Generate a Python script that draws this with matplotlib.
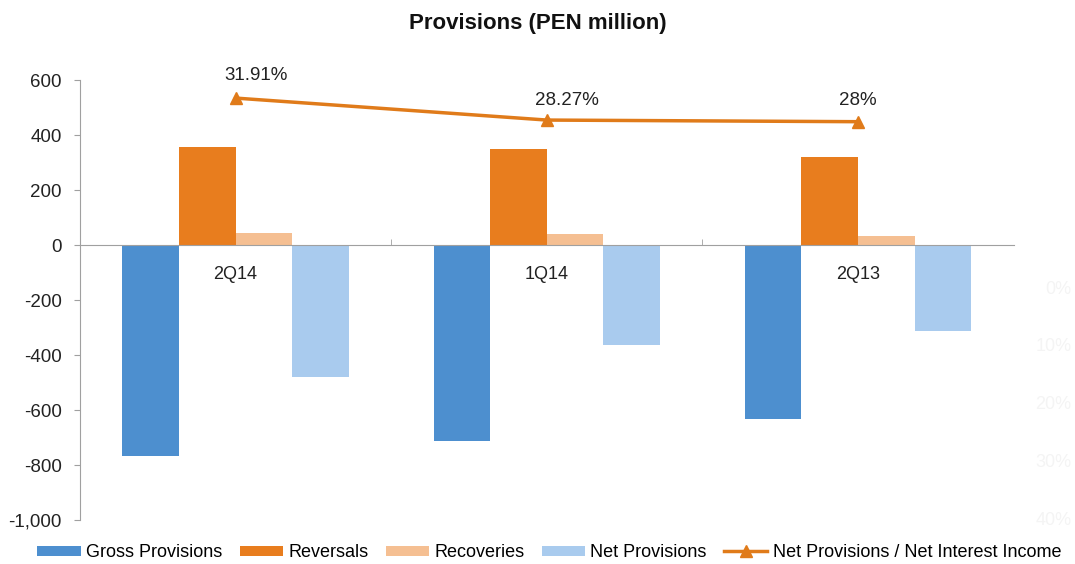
import numpy as np
import matplotlib.pyplot as plt
from matplotlib.ticker import FuncFormatter

plt.rcParams['font.family'] = ['Liberation Sans', 'DejaVu Sans']

quarters = ["2Q14", "1Q14", "2Q13"]
gross_provisions = [-768, -713, -633]
reversals = [355, 351, 322]
recoveries = [44, 40, 33]
net_provisions = [-479, -362, -311]
net_prov_ratio = [31.91, 28.27, 28.0]
ratio_labels = ["31.91%", "28.27%", "28%"]
ghost_pct_labels = ["0%", "10%", "20%", "30%", "40%"]

series = [
    ("Gross Provisions", gross_provisions, "#4d8fcf"),
    ("Reversals", reversals, "#e87d1e"),
    ("Recoveries", recoveries, "#f5bf92"),
    ("Net Provisions", net_provisions, "#a9cbee"),
]

fig = plt.figure(figsize=(10.75, 5.64), dpi=100)
ax = fig.add_axes([0.0744, 0.078, 0.8686, 0.78])

x = np.arange(len(quarters))
w = 0.182
for i, (name, vals, col) in enumerate(series):
    ax.bar(x + (i - 1.5) * w, vals, width=w, color=col, label=name, zorder=2)

ax.set_xlim(-0.5, 2.5)
ax.set_ylim(-1000, 600)
ax.set_yticks(np.arange(-1000, 601, 200))
ax.yaxis.set_major_formatter(FuncFormatter(lambda v, p: f"{int(v):,}"))
ax.tick_params(axis='y', labelsize=13.5, colors='#222222', length=4, color='#a0a0a0', pad=9)

for s in ['top', 'right']:
    ax.spines[s].set_visible(False)
ax.spines['left'].set_color('#a0a0a0')
ax.spines['bottom'].set_position(('data', 0))
ax.spines['bottom'].set_color('#a0a0a0')
ax.set_xticks(x)
ax.set_xticklabels(quarters)
ax.tick_params(axis='x', which='major', length=0, pad=15, labelsize=13, labelcolor='#222222')
ax.set_xticks([0.5, 1.5], minor=True)
ax.tick_params(axis='x', which='minor', length=4, color='#a0a0a0', direction='in')

# faint ghost labels of a hidden right axis
for k, lab in enumerate(ghost_pct_labels):
    ax.text(1.062, -160 - 210 * k, lab, transform=ax.get_yaxis_transform(),
            ha='right', va='center', fontsize=13, color='#f4f4f4')

ax2 = ax.twinx()
ax2.set_ylim(-37.96, 34.89)
ax2.axis('off')
ax2.plot(x, net_prov_ratio, color='#e07b1a', lw=2.5, marker='^', markersize=8,
         label="Net Provisions / Net Interest Income", zorder=3)
offsets = [(20, 23), (20, 20), (0, 21)]
for xi, yi, lab, off in zip(x, net_prov_ratio, ratio_labels, offsets):
    ax2.annotate(lab, (xi, yi), xytext=off, textcoords='offset pixels',
                 ha='center', va='center', fontsize=13.5, color='#222222')

fig.text(0.5, 0.958, "Provisions (PEN million)", ha='center', va='center',
         fontsize=16, fontweight='bold', color='#111111')

h1, l1 = ax.get_legend_handles_labels()
h2, l2 = ax2.get_legend_handles_labels()
fig.legend(h1 + h2, l1 + l2, loc='center', bbox_to_anchor=(0.511, 0.02), ncol=5,
           frameon=False, fontsize=13, handlelength=2.4, handleheight=0.5,
           columnspacing=0.95, handletextpad=0.3)

plt.savefig("out.png", dpi=100)
